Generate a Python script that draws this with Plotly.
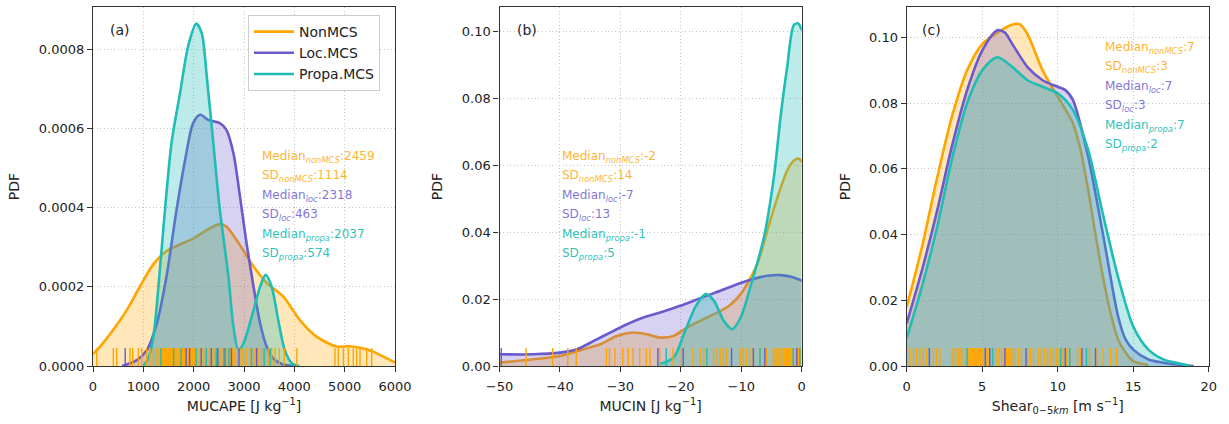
import plotly.graph_objects as go

# ---------------- data ----------------
groups = ["NonMCS", "Loc.MCS", "Propa.MCS"]
colors = ["#FFA500", "#6A5ACD", "#20BDB5"]
fills = ["rgba(255,165,0,0.27)", "rgba(106,90,205,0.27)", "rgba(32,189,181,0.30)"]
text_colors = ["rgba(255,165,0,0.85)", "rgba(106,90,205,0.85)", "rgba(32,189,181,0.95)"]

# Panel (a) MUCAPE
a_non_x = [0, 140, 400, 670, 930, 1200, 1460, 1730, 2000, 2260, 2520, 2650, 2920, 3190, 3450, 3780, 4110, 4440, 4840, 5100, 5440, 5700, 5970, 6000]
a_non_y = [0.30e-4, 0.49e-4, 0.91e-4, 1.41e-4, 2.00e-4, 2.57e-4, 2.90e-4, 3.07e-4, 3.22e-4, 3.43e-4, 3.58e-4, 3.52e-4, 3.05e-4, 2.51e-4, 2.10e-4, 1.75e-4, 1.16e-4, 0.74e-4, 0.49e-4, 0.50e-4, 0.42e-4, 0.28e-4, 0.11e-4, 0.10e-4]
a_loc_x = [580, 870, 1070, 1270, 1460, 1660, 1830, 1990, 2130, 2290, 2520, 2650, 2790, 2920, 3050, 3190, 3320, 3450, 3580, 3750, 3980]
a_loc_y = [0.0, 0.15e-4, 0.40e-4, 1.08e-4, 2.26e-4, 3.94e-4, 5.20e-4, 6.13e-4, 6.34e-4, 6.21e-4, 6.13e-4, 5.96e-4, 5.37e-4, 4.28e-4, 3.10e-4, 2.00e-4, 1.08e-4, 0.49e-4, 0.19e-4, 0.05e-4, 0.0]
a_pro_x = [1000, 1100, 1200, 1300, 1430, 1560, 1730, 1890, 2050, 2160, 2260, 2390, 2520, 2690, 2790, 2890, 2990, 3190, 3320, 3430, 3550, 3680, 3810, 3950, 4100]
a_pro_y = [0.0, 0.20e-4, 0.74e-4, 2.00e-4, 3.94e-4, 5.63e-4, 6.89e-4, 8.07e-4, 8.64e-4, 8.40e-4, 7.31e-4, 5.63e-4, 3.94e-4, 2.26e-4, 0.99e-4, 0.40e-4, 0.57e-4, 1.41e-4, 2.00e-4, 2.30e-4, 2.00e-4, 1.16e-4, 0.40e-4, 0.07e-4, 0.0]
a_rug_non = [73, 404, 470, 735, 788, 901, 967, 1066, 1132, 1199, 1250, 1290, 1330, 1380, 1420, 1460, 1500, 1540, 1580, 1620, 1650, 1700, 1740, 1780, 1820, 1850, 1900, 1940, 1980, 2020, 2060, 2110, 2150, 2190, 2230, 2280, 2320, 2360, 2400, 2440, 2480, 2520, 2560, 2600, 2640, 2680, 2720, 2770, 2820, 2870, 2920, 2980, 3050, 3120, 3200, 3280, 3350, 3420, 3480, 3550, 3620, 3700, 3800, 4050, 4808, 4874, 4974, 5073, 5172, 5238, 5305, 5437, 5537]
a_rug_loc = [640, 1850, 1920, 2150, 2350, 2480, 2620, 2750, 2900, 3250]
a_rug_pro = [1350, 1600, 1750, 2050, 2250, 2450, 2600, 2700, 3150, 3400, 3520]

# Panel (b) MUCIN
b_non_x = [-50, -44.4, -40, -36.1, -33.3, -30.6, -27.8, -25.6, -23.4, -21.2, -19, -16.8, -14.5, -12, -10.1, -7.35, -5.7, -4.0, -2.4, -1.3, -0.45, 0]
b_non_y = [0.001, 0.002, 0.003, 0.005, 0.0065, 0.009, 0.010, 0.0095, 0.0085, 0.009, 0.0115, 0.0135, 0.0155, 0.018, 0.0215, 0.0305, 0.0405, 0.0505, 0.0585, 0.0615, 0.062, 0.061]
b_loc_x = [-50, -44.4, -40, -37.2, -34.4, -31.7, -28.9, -26.2, -23.4, -20.1, -16.75, -14.5, -9.0, -5.7, -3.5, -1.3, 0]
b_loc_y = [0.0035, 0.0035, 0.004, 0.005, 0.0075, 0.010, 0.0125, 0.0145, 0.016, 0.018, 0.0203, 0.0218, 0.0255, 0.027, 0.0272, 0.0265, 0.0255]
b_pro_x = [-23.7, -21.2, -19.5, -17.5, -15.9, -14.5, -12.9, -11.5, -10.1, -8.2, -6.25, -4.6, -3.5, -2.4, -1.3, -0.6, 0]
b_pro_y = [0.0005, 0.0025, 0.0095, 0.018, 0.0215, 0.0195, 0.0135, 0.011, 0.0145, 0.0255, 0.0385, 0.0565, 0.0745, 0.0895, 0.102, 0.1025, 0.1005]
b_rug_non = [-45.6, -41.2, -38.7, -37.3, -32.3, -31.8, -30.9, -29.6, -28.7, -27.9, -26.8, -25.7, -25.1, -23.5, -21.3, -19.9, -18.0, -16.8, -16.2, -14.6, -14.0, -13.5, -13.0, -12.4, -10.2, -9.7, -9.1, -8.6, -8.0, -6.9, -5.8, -4.7, -4.4, -4.1, -3.9, -3.6, -3.3, -3.0, -2.8, -2.5, -2.2, -1.9, -1.6, -0.9, -0.5, -0.2]
b_rug_loc = [-49.7, -23.8, -19.6, -11.6, -8.0, -6.1, -0.8]
b_rug_pro = [-22.4, -15.7, -6.9, -1.4, -0.3]

# Panel (c) Shear 0-5 km
c_non_x = [0, 1, 2, 3, 4, 5, 6, 7, 7.5, 8, 9, 10, 11, 11.5, 12, 12.5, 13, 13.5, 14, 14.5, 15, 16]
c_non_y = [0.018, 0.036, 0.057, 0.076, 0.090, 0.098, 0.1015, 0.104, 0.104, 0.101, 0.090, 0.082, 0.074, 0.066, 0.054, 0.040, 0.027, 0.016, 0.008, 0.004, 0.0015, 0.0003]
c_loc_x = [0, 1, 2, 3, 4, 5, 6, 6.5, 7, 8, 9, 10, 10.5, 11, 12, 13, 14, 14.5, 15, 16, 17, 18, 19]
c_loc_y = [0.013, 0.029, 0.047, 0.067, 0.084, 0.096, 0.1022, 0.1015, 0.098, 0.091, 0.087, 0.085, 0.084, 0.081, 0.064, 0.040, 0.015, 0.008, 0.005, 0.002, 0.001, 0.0004, 0.0]
c_pro_x = [0, 1, 2, 3, 4, 5, 6, 7, 8, 9, 10, 11, 12, 13, 14, 15, 16, 17, 18, 18.8]
c_pro_y = [0.0085, 0.024, 0.042, 0.063, 0.080, 0.090, 0.094, 0.091, 0.087, 0.085, 0.083, 0.078, 0.066, 0.046, 0.027, 0.012, 0.005, 0.002, 0.0008, 0.0]
c_rug_non = [0.22, 0.44, 0.66, 0.88, 1.1, 1.32, 1.77, 1.99, 2.2, 3.0, 3.1, 3.25, 3.4, 3.5, 3.6, 3.75, 3.9, 4.1, 4.2, 4.35, 4.5, 4.6, 4.75, 4.9, 5.05, 5.3, 5.45, 5.65, 5.9, 6.1, 6.3, 6.6, 6.75, 6.9, 7.05, 7.2, 7.4, 7.6, 8.0, 8.2, 8.4, 8.7, 8.9, 9.1, 9.3, 9.5, 9.7, 9.9, 10.1, 10.35, 10.6, 10.8, 11.3, 11.5, 11.9, 12.1, 12.6, 13.0, 13.5, 13.9]
c_rug_loc = [1.5, 5.2, 5.5, 6.5, 7.9, 10.5, 11.6, 12.5]
c_rug_pro = [4.0, 5.7, 10.2, 10.8, 11.9]

# statistics text
stats_a = ["2459", "1114", "2318", "463", "2037", "574"]
stats_b = ["-2", "14", "-7", "13", "-1", "5"]
stats_c = ["7", "3", "7", "3", "7", "2"]
sub_names = ["nonMCS", "loc", "propa"]

panel_labels = ["(a)", "(b)", "(c)"]
x_titles = ["MUCAPE [J kg<sup>\u22121</sup>]", "MUCIN [J kg<sup>\u22121</sup>]",
            "Shear<sub>0\u22125<i>km</i></sub> [m s<sup>\u22121</sup>]"]

# ---------------- figure ----------------
W, H = 1229, 424
fig = go.Figure()

panels = [
    dict(curves=[(a_non_x, a_non_y), (a_loc_x, a_loc_y), (a_pro_x, a_pro_y)],
         rugs=[a_rug_non, a_rug_loc, a_rug_pro], stats=stats_a,
         xdom=(93, 395), xr=[0, 6000], xdt=1000, yr=[0, 0.000906], ydt=0.0002, yfmt=".4f",
         txt=(260, 157), lab=(108, 30)),
    dict(curves=[(b_non_x, b_non_y), (b_loc_x, b_loc_y), (b_pro_x, b_pro_y)],
         rugs=[b_rug_non, b_rug_loc, b_rug_pro], stats=stats_b,
         xdom=(499.5, 801.7), xr=[-50, 0], xdt=10, yr=[0, 0.1074], ydt=0.02, yfmt=".2f",
         txt=(560, 157), lab=(515, 30)),
    dict(curves=[(c_non_x, c_non_y), (c_loc_x, c_loc_y), (c_pro_x, c_pro_y)],
         rugs=[c_rug_non, c_rug_loc, c_rug_pro], stats=stats_c,
         xdom=(906.7, 1208.8), xr=[0, 20], xdt=5, yr=[0, 0.1093], ydt=0.02, yfmt=".2f",
         txt=(1103, 48), lab=(920, 30)),
]

ydom = [(H - 366) / H, (H - 7) / H]
annotations = []
for i, p in enumerate(panels):
    n = "" if i == 0 else str(i + 1)
    xa, ya = "x" + n, "y" + n
    for g, (cx, cy) in enumerate(p["curves"]):
        fig.add_trace(go.Scatter(
            x=cx, y=cy, xaxis=xa, yaxis=ya, mode="lines",
            line=dict(color=colors[g], width=2.6, shape="spline", smoothing=0.8),
            fill="tozeroy", fillcolor=fills[g], name=groups[g],
            showlegend=False, hoverinfo="skip"))
    rug_h = 0.05 * p["yr"][1]
    for g, vals in enumerate(p["rugs"]):
        rx, ry = [], []
        for v in vals:
            rx += [v, v, None]
            ry += [0, rug_h, None]
        fig.add_trace(go.Scatter(x=rx, y=ry, xaxis=xa, yaxis=ya, mode="lines",
                                 line=dict(color=colors[g], width=1.4),
                                 showlegend=False, hoverinfo="skip"))
    axis_common = dict(showline=True, linecolor="#333", linewidth=1.2, mirror=True,
                       ticks="outside", ticklen=5, tickcolor="#333",
                       showgrid=True, gridcolor="#c4c4c4", griddash="1px,2.5px", gridwidth=1,
                       zeroline=False, automargin=False,
                       tickfont=dict(size=13, color="#222"))
    fig.layout["xaxis" + n] = dict(
        axis_common, domain=[p["xdom"][0] / W, p["xdom"][1] / W], range=p["xr"],
        dtick=p["xdt"], tick0=p["xr"][0], anchor=ya, ticklabelstandoff=3,
        title=dict(text=x_titles[i], font=dict(size=14, color="#222"), standoff=8))
    fig.layout["yaxis" + n] = dict(
        axis_common, domain=ydom, range=p["yr"], dtick=p["ydt"], tick0=0,
        tickformat=p["yfmt"], anchor=xa,
        title=dict(text="PDF", font=dict(size=14, color="#222"), standoff=15))
    annotations.append(dict(x=p["lab"][0] / W, y=1 - p["lab"][1] / H, xref="paper", yref="paper",
                            text=panel_labels[i], showarrow=False, xanchor="left", yanchor="middle",
                            font=dict(size=14, color="#222")))
    labels = []
    for g in range(3):
        labels.append((f"Median<sub><i>{sub_names[g]}</i></sub>:{p['stats'][2*g]}", g))
        labels.append((f"SD<sub><i>{sub_names[g]}</i></sub>:{p['stats'][2*g+1]}", g))
    for k, (t, g) in enumerate(labels):
        annotations.append(dict(x=p["txt"][0] / W, y=1 - (p["txt"][1] + 19.4 * k) / H,
                                xref="paper", yref="paper", text=t, showarrow=False,
                                xanchor="left", yanchor="middle",
                                font=dict(size=12, color=text_colors[g])))

# legend entries drawn as plain lines (like the reference)
for g in range(3):
    fig.add_trace(go.Scatter(x=[None], y=[None], xaxis="x", yaxis="y", mode="lines",
                             line=dict(color=colors[g], width=2.6), name=groups[g],
                             showlegend=True, legendrank=g + 1))

fig.update_layout(
    width=W, height=H, margin=dict(l=0, r=0, t=0, b=0),
    paper_bgcolor="white", plot_bgcolor="white",
    font=dict(family="DejaVu Sans", size=13, color="#222"),
    annotations=annotations,
    legend=dict(x=248 / W, y=1 - 15 / H, xanchor="left", yanchor="top",
                bgcolor="rgba(255,255,255,0.85)", bordercolor="#cccccc", borderwidth=1,
                font=dict(size=14, color="#222"), itemwidth=40, tracegroupgap=2),
)

fig.write_html("out.html", config={"displayModeBar": False},
               post_script="document.body.style.margin='0px';")
